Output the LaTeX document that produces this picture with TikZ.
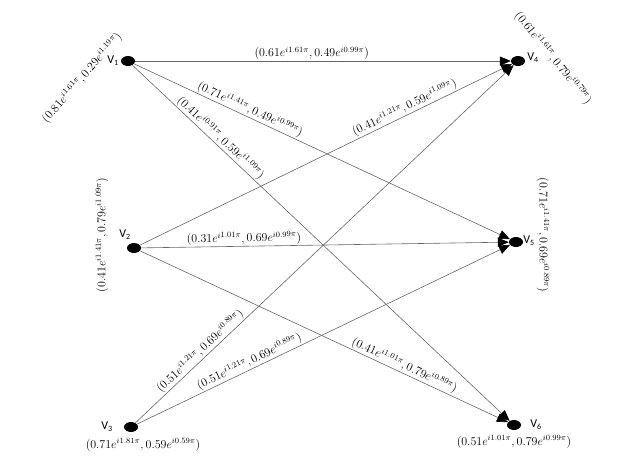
\documentclass[tikz,border=0pt]{standalone}
\usepackage{fontspec}
\usetikzlibrary{arrows.meta,shapes.geometric}
\newfontfamily\namefont{Carlito}
\begin{document}
\begin{tikzpicture}[x=1pt,y=-1pt,
  vtx/.style={ellipse,fill=black,minimum width=14pt,minimum height=10pt,inner sep=0pt},
  edge/.style={draw=black!60,line width=0.6pt,-{Triangle[length=11pt,width=9pt,color=black]}},
  elab/.style={sloped,above,inner sep=1pt,font=\fontsize{12}{14}\selectfont},
  vlab/.style={inner sep=0pt,font=\fontsize{12}{14}\selectfont},
  vname/.style={inner sep=0pt,font=\namefont\fontsize{12}{14}\selectfont}]
\useasboundingbox (0,0) rectangle (624,472);
\fill[white] (0,0) rectangle (624,472);
\node[vtx] (v1) at (128,61) {};
\node[vtx] (v2) at (134,248) {};
\node[vtx] (v3) at (131,427) {};
\node[vtx] (v4) at (518,61) {};
\node[vtx] (v5) at (516,242) {};
\node[vtx] (v6) at (514,425) {};
\node[vname] (n1) at (113,61) {V\textsubscript{1}};
\node[vname] (n2) at (125,235) {V\textsubscript{2}};
\node[vname] (n3) at (107,427) {V\textsubscript{3}};
\node[vname] (n4) at (533,58) {V\textsubscript{4}};
\node[vname] (n5) at (529,241) {V\textsubscript{5}};
\node[vname] (n6) at (536,425) {V\textsubscript{6}};
\node[vlab,rotate=49] (l1) at (82,78) {$(0.81e^{i1.61\pi},0.29e^{i1.19\pi})$};
\node[vlab,rotate=90] (l2) at (102,235) {$(0.41e^{i1.41\pi},0.79e^{i1.09\pi})$};
\node[vlab] (l3) at (143,445) {$(0.71e^{i1.81\pi},0.59e^{i0.59\pi})$};
\node[vlab,rotate=-51] (l4) at (553,58) {$(0.61e^{i1.61\pi},0.79e^{i0.79\pi})$};
\node[vlab,rotate=-90] (l5) at (543,235) {$(0.71e^{i1.41\pi},0.69e^{i0.89\pi})$};
\node[vlab] (l6) at (514,442) {$(0.51e^{i1.01\pi},0.79e^{i0.99\pi})$};
\draw[edge] (v1) -- node[elab,pos=0.47] {$(0.61e^{i1.61\pi},0.49e^{i0.99\pi})$} (v4);
\draw[edge] (v1) -- node[elab,pos=0.30] {$(0.71e^{i1.41\pi},0.49e^{i0.99\pi})$} (v5);
\draw[edge] (v1) -- node[elab,pos=0.22] {$(0.41e^{i0.91\pi},0.59e^{i1.09\pi})$} (v6);
\draw[edge] (v2) -- node[elab,pos=0.72] {$(0.41e^{i1.21\pi},0.59e^{i1.09\pi})$} (v4);
\draw[edge] (v2) -- node[elab,pos=0.28] {$(0.31e^{i1.01\pi},0.69e^{i0.99\pi})$} (v5);
\draw[edge] (v2) -- node[elab,pos=0.71] {$(0.41e^{i1.01\pi},0.79e^{i0.89\pi})$} (v6);
\draw[edge] (v3) -- node[elab,pos=0.185] {$(0.51e^{i1.21\pi},0.69e^{i0.89\pi})$} (v4);
\draw[edge] (v3) -- node[elab,pos=0.31] {$(0.51e^{i1.21\pi},0.69e^{i0.89\pi})$} (v5);
\end{tikzpicture}
\end{document}
